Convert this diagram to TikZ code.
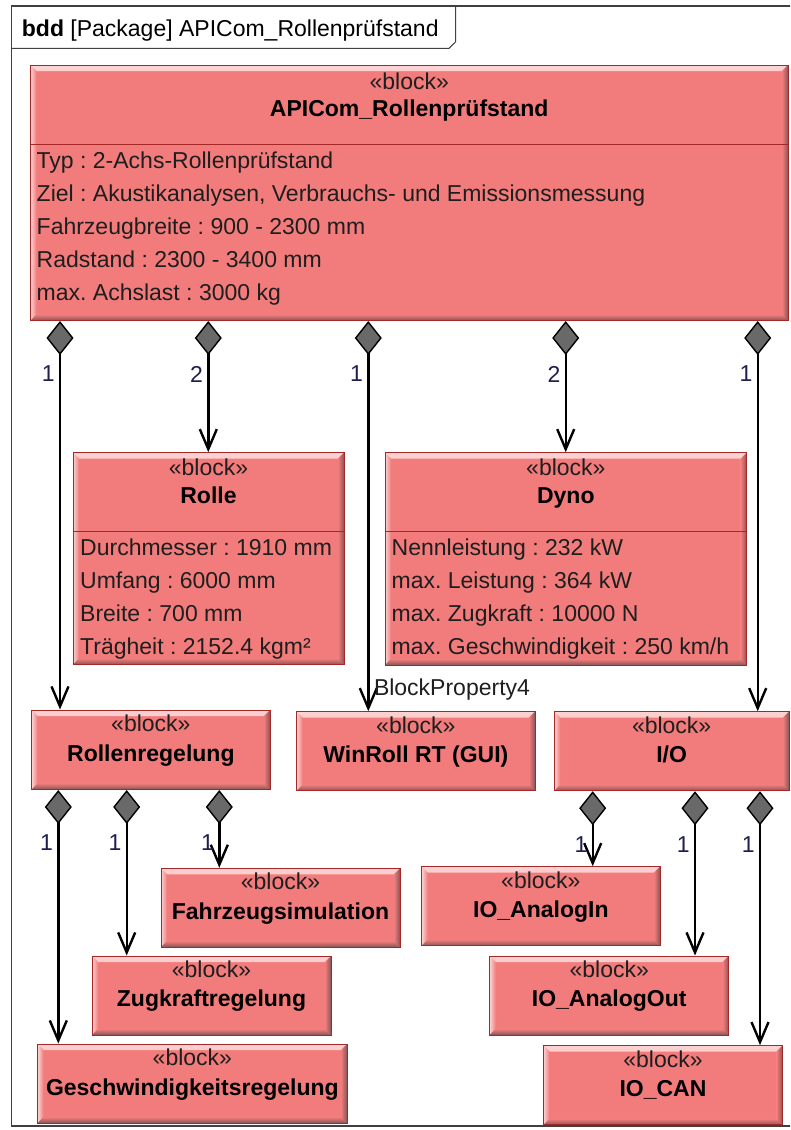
\documentclass[tikz,border=0pt]{standalone}
\usepackage{fontspec}
\setmainfont{Liberation Sans}
\usetikzlibrary{arrows.meta}
\frenchspacing

\definecolor{blockfill}{RGB}{242,124,124}
\definecolor{blockedge}{RGB}{165,40,40}
\definecolor{blocklight}{RGB}{252,210,210}
\definecolor{blockdark}{RGB}{135,85,85}
\definecolor{diagray}{RGB}{105,105,105}
\definecolor{multcol}{RGB}{30,30,80}
\definecolor{textcol}{RGB}{30,30,30}

\tikzset{
  every node/.style={font=\fontsize{23}{28}\selectfont, inner sep=0pt},
  % SysML block with a bevelled edge
  block/.style={rectangle, draw=blockedge, line width=1pt, fill=blockfill,
    path picture={
      \shade[top color=blocklight, bottom color=blockfill]
        (path picture bounding box.north west) -- (path picture bounding box.north east)
        -- ([xshift=-6pt,yshift=-6pt]path picture bounding box.north east)
        -- ([xshift=6pt,yshift=-6pt]path picture bounding box.north west) -- cycle;
      \shade[left color=blocklight, right color=blockfill]
        (path picture bounding box.north west) -- ([xshift=6pt,yshift=-6pt]path picture bounding box.north west)
        -- ([xshift=6pt,yshift=6pt]path picture bounding box.south west)
        -- (path picture bounding box.south west) -- cycle;
      \shade[left color=blockfill, right color=blockdark]
        (path picture bounding box.north east) -- (path picture bounding box.south east)
        -- ([xshift=-6pt,yshift=6pt]path picture bounding box.south east)
        -- ([xshift=-6pt,yshift=-6pt]path picture bounding box.north east) -- cycle;
      \shade[top color=blockfill, bottom color=blockdark]
        (path picture bounding box.south west) -- (path picture bounding box.south east)
        -- ([xshift=-6pt,yshift=6pt]path picture bounding box.south east)
        -- ([xshift=6pt,yshift=6pt]path picture bounding box.south west) -- cycle;
    }},
  divider/.style={draw=blockedge, line width=1pt},
  stereo/.style={anchor=base, text=textcol},
  bname/.style={anchor=base, font=\fontsize{23}{28}\selectfont\bfseries, text=black},
  attr/.style={anchor=base west, text=textcol},
  % composition: filled diamond at the owner, open arrow at the part
  comp/.style={line width=2.4pt,
    {Diamond[length=34pt, width=27pt, line width=1.4pt, fill=diagray]}-{Straight Barb[length=20pt, width=17pt]}},
  mult/.style={at start, xshift=-11.7pt, yshift=-53pt, text=multcol},
  frame/.style={draw=black!75, line width=1.3pt}
}

\begin{document}
\begin{tikzpicture}[x=1pt, y=-1pt]
  \useasboundingbox (0,0) rectangle (790,1130);
  \clip (0,0) rectangle (790,1130);

  % diagram frame and name tab
  \draw[frame] (11.7,6) rectangle (805,1126);
  \draw[frame, line width=1pt] (11.7,48.3) -- (449,48.3) -- (455.5,42) -- (455.5,6);
  \node[anchor=base west] (tab) at (21.7,36.7) {\textbf{bdd} [Package] APICom\_Rollenprüfstand};

  % top level block
  \node[block, minimum width=757.5pt, minimum height=255.5pt] (pruefstand) at (409.25,192.75) {};
  \draw[divider] (pruefstand.west |- 0,144) -- (pruefstand.east |- 0,144);
  \node[stereo] (pruefstand-st) at (pruefstand.north |- 0,89) {«block»};
  \node[bname] (pruefstand-nm) at (pruefstand.north |- 0,116.7) {APICom\_Rollenprüfstand};
  \node[attr] (pruefstand-a1) at (36.5,168) {Typ : 2-Achs-Rollenprüfstand};
  \node[attr] (pruefstand-a2) at (36.5,201.3) {Ziel : Akustikanalysen, Verbrauchs- und Emissionsmessung};
  \node[attr] (pruefstand-a3) at (36.5,234.5) {Fahrzeugbreite : 900 - 2300 mm};
  \node[attr] (pruefstand-a4) at (36.5,267.7) {Radstand : 2300 - 3400 mm};
  \node[attr] (pruefstand-a5) at (36.5,300.8) {max. Achslast : 3000 kg};

  % Rolle
  \node[block, minimum width=271pt, minimum height=211.8pt] (rolle) at (208.5,558.6) {};
  \draw[divider] (rolle.west |- 0,531) -- (rolle.east |- 0,531);
  \node[stereo] (rolle-st) at (rolle.north |- 0,475) {«block»};
  \node[bname] (rolle-nm) at (rolle.north |- 0,503.3) {Rolle};
  \node[attr] (rolle-a1) at (80,555) {Durchmesser : 1910 mm};
  \node[attr] (rolle-a2) at (80,588) {Umfang : 6000 mm};
  \node[attr] (rolle-a3) at (80,621.5) {Breite : 700 mm};
  \node[attr] (rolle-a4) at (80,654.5) {Trägheit : 2152.4 kgm²};

  % Dyno
  \node[block, minimum width=361.7pt, minimum height=212.3pt] (dyno) at (565.85,558.85) {};
  \draw[divider] (dyno.west |- 0,531) -- (dyno.east |- 0,531);
  \node[stereo] (dyno-st) at (dyno.north |- 0,475) {«block»};
  \node[bname] (dyno-nm) at (dyno.north |- 0,503.3) {Dyno};
  \node[attr] (dyno-a1) at (391.5,555) {Nennleistung : 232 kW};
  \node[attr] (dyno-a2) at (391.5,588) {max. Leistung : 364 kW};
  \node[attr] (dyno-a3) at (391.5,621.5) {max. Zugkraft : 10000 N};
  \node[attr] (dyno-a4) at (391.5,654.5) {max. Geschwindigkeit : 250 km/h};

  % second row
  \node[block, minimum width=238.3pt, minimum height=79.5pt] (rollenregelung) at (150.85,749.75) {};
  \node[stereo] (rollenregelung-st) at (rollenregelung.north |- 0,731.7) {«block»};
  \node[bname] (rollenregelung-nm) at (rollenregelung.north |- 0,761) {Rollenregelung};

  \node[block, minimum width=238.3pt, minimum height=79pt] (winroll) at (415.85,751.2) {};
  \node[stereo] (winroll-st) at (winroll.north |- 0,733) {«block»};
  \node[bname] (winroll-nm) at (winroll.north |- 0,762.5) {WinRoll RT (GUI)};

  \node[block, minimum width=234.7pt, minimum height=79pt] (io) at (671.65,751.2) {};
  \node[stereo] (io-st) at (io.north |- 0,733) {«block»};
  \node[bname] (io-nm) at (io.north |- 0,762.5) {I/O};

  % parts of Rollenregelung
  \node[block, minimum width=239pt, minimum height=78.7pt] (fzsim) at (280.5,907.65) {};
  \node[stereo] (fzsim-st) at (fzsim.north |- 0,889.5) {«block»};
  \node[bname] (fzsim-nm) at (fzsim.north |- 0,919) {Fahrzeugsimulation};

  \node[block, minimum width=239pt, minimum height=79pt] (zugkraft) at (211.5,995.5) {};
  \node[stereo] (zugkraft-st) at (zugkraft.north |- 0,977) {«block»};
  \node[bname] (zugkraft-nm) at (zugkraft.north |- 0,1006.5) {Zugkraftregelung};

  \node[block, minimum width=309.3pt, minimum height=79pt] (geschw) at (192.35,1083.5) {};
  \node[stereo] (geschw-st) at (geschw.north |- 0,1065) {«block»};
  \node[bname] (geschw-nm) at (geschw.north |- 0,1095) {Geschwindigkeitsregelung};

  % parts of I/O
  \node[block, minimum width=238.3pt, minimum height=79pt] (analogin) at (540.85,906.2) {};
  \node[stereo] (analogin-st) at (analogin.north |- 0,888) {«block»};
  \node[bname] (analogin-nm) at (analogin.north |- 0,917.5) {IO\_AnalogIn};

  \node[block, minimum width=239pt, minimum height=79pt] (analogout) at (609.2,995.5) {};
  \node[stereo] (analogout-st) at (analogout.north |- 0,977) {«block»};
  \node[bname] (analogout-nm) at (analogout.north |- 0,1006.5) {IO\_AnalogOut};

  \node[block, minimum width=239.1pt, minimum height=79.3pt] (iocan) at (663,1085.3) {};
  \node[stereo] (iocan-st) at (iocan.north |- 0,1067) {«block»};
  \node[bname] (iocan-nm) at (iocan.north |- 0,1096.5) {IO\_CAN};

  % compositions
  \draw[comp] (pruefstand.south -| 60,0) -- node[mult] (m1) {1} (rollenregelung.north -| 60,0);
  \draw[comp] (pruefstand.south -| 208.3,0) -- node[mult] (m2) {2} (rolle.north -| 208.3,0);
  \draw[comp] (pruefstand.south -| 368.3,0) -- node[mult] (m3) {1}
    node[at end, anchor=base west, xshift=4.5pt, yshift=16pt, text=textcol] (bp4) {BlockProperty4}
    (winroll.north -| 368.3,0);
  \draw[comp] (pruefstand.south -| 565.7,0) -- node[mult] (m4) {2} (dyno.north -| 565.7,0);
  \draw[comp] (pruefstand.south -| 757.7,0) -- node[mult] (m5) {1} (io.north -| 757.7,0);

  \draw[comp] (rollenregelung.south -| 58.3,0) -- node[mult] (m6) {1} (geschw.north -| 58.3,0);
  \draw[comp] (rollenregelung.south -| 126.7,0) -- node[mult] (m7) {1} (zugkraft.north -| 126.7,0);
  \draw[comp] (rollenregelung.south -| 219.3,0) -- node[mult] (m8) {1} (fzsim.north -| 219.3,0);

  \draw[comp] (io.south -| 592.7,0) -- node[mult] (m9) {1} (analogin.north -| 592.7,0);
  \draw[comp] (io.south -| 695,0) -- node[mult] (m10) {1} (analogout.north -| 695,0);
  \draw[comp] (io.south -| 760,0) -- node[mult] (m11) {1} (iocan.north -| 760,0);
\end{tikzpicture}
\end{document}
